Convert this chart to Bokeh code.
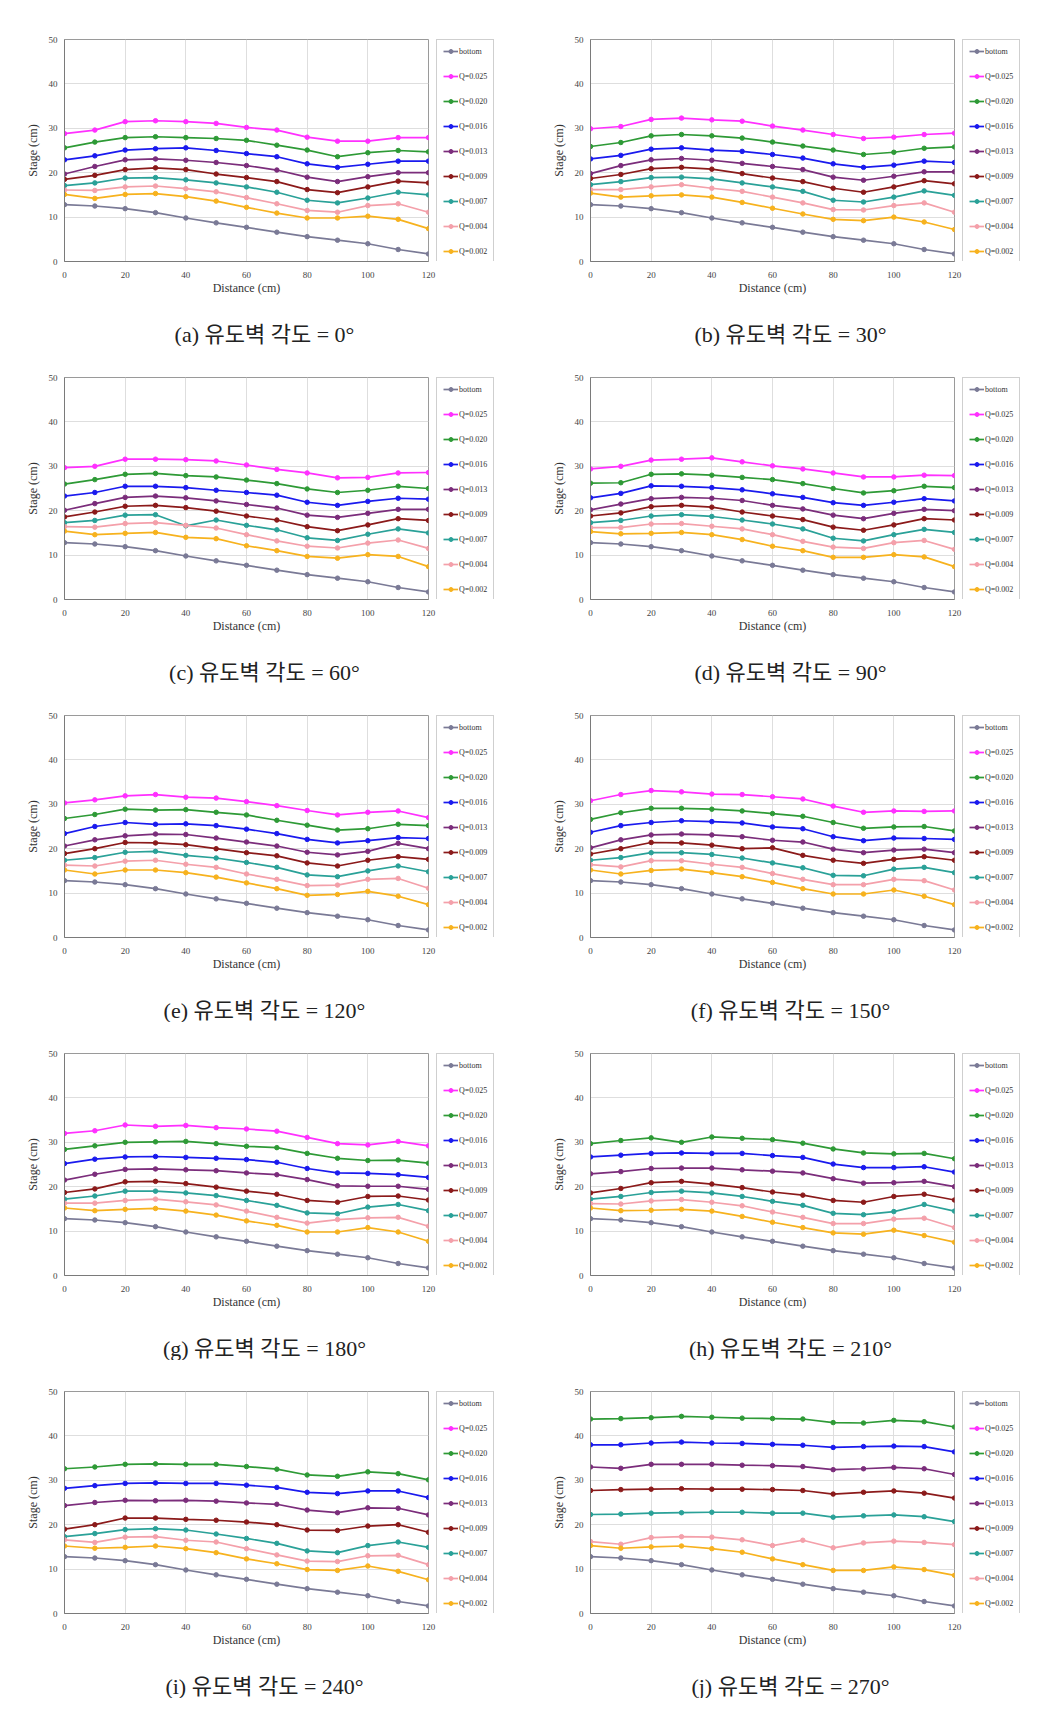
from bokeh.plotting import figure
from bokeh.models import (Range1d, FixedTicker, Legend, LegendItem, Label,
                          ColumnDataSource)
from bokeh.layouts import column, row
from bokeh.embed import file_html
from bokeh.resources import INLINE

# ---------------- data ----------------
X = [0, 10, 20, 30, 40, 50, 60, 70, 80, 90, 100, 110, 120]
X_TICKS = [0, 20, 40, 60, 80, 100, 120]
Y_TICKS = [0, 10, 20, 30, 40, 50]

SERIES = ["bottom", "Q=0.025", "Q=0.020", "Q=0.016", "Q=0.013",
          "Q=0.009", "Q=0.007", "Q=0.004", "Q=0.002"]
COLORS = ["#7a7a96", "#ff30ff", "#2e9a36", "#1a1aee", "#7b2d7b",
          "#8b1a1a", "#2aa198", "#f4a0aa", "#f7b21e"]

BOTTOM = [12.8, 12.5, 11.9, 11.0, 9.8, 8.7, 7.7, 6.6, 5.6, 4.8, 4.0, 2.7, 1.7]

# (a) 0 deg
A_025 = [28.8, 29.6, 31.5, 31.7, 31.5, 31.1, 30.2, 29.6, 28.0, 27.1, 27.1, 27.9, 27.9]
A_020 = [25.6, 26.9, 27.9, 28.1, 27.9, 27.7, 27.3, 26.2, 25.1, 23.6, 24.5, 25.0, 24.7]
A_016 = [22.9, 23.8, 25.1, 25.4, 25.6, 25.0, 24.3, 23.6, 22.0, 21.2, 21.9, 22.6, 22.6]
A_013 = [19.7, 21.4, 22.9, 23.1, 22.8, 22.3, 21.6, 20.6, 19.0, 18.0, 19.1, 20.0, 20.0]
A_009 = [18.5, 19.4, 20.7, 21.1, 20.7, 19.7, 18.9, 18.0, 16.2, 15.5, 16.8, 18.1, 17.7]
A_007 = [17.1, 17.7, 18.8, 18.9, 18.4, 17.7, 16.8, 15.6, 13.8, 13.2, 14.3, 15.6, 15.0]
A_004 = [16.1, 16.0, 16.8, 17.0, 16.4, 15.7, 14.4, 13.0, 11.5, 11.1, 12.6, 13.0, 11.1]
A_002 = [15.1, 14.2, 15.1, 15.3, 14.6, 13.6, 12.2, 10.9, 9.8, 9.8, 10.2, 9.5, 7.4]

# (b) 30 deg
B_025 = [29.9, 30.4, 32.0, 32.3, 31.9, 31.6, 30.5, 29.6, 28.6, 27.7, 28.0, 28.6, 28.9]
B_020 = [25.9, 26.8, 28.3, 28.6, 28.3, 27.8, 26.9, 26.0, 25.1, 24.1, 24.6, 25.5, 25.8]
B_016 = [23.1, 23.9, 25.3, 25.6, 25.1, 24.8, 24.1, 23.3, 22.0, 21.2, 21.7, 22.6, 22.3]
B_013 = [19.8, 21.6, 22.9, 23.2, 22.8, 22.1, 21.4, 20.7, 19.0, 18.3, 19.2, 20.2, 20.2]
B_009 = [18.7, 19.6, 20.9, 21.2, 20.8, 19.8, 18.8, 18.0, 16.5, 15.6, 16.8, 18.2, 17.5]
B_007 = [17.3, 18.0, 18.9, 19.0, 18.6, 17.7, 16.8, 15.8, 13.8, 13.4, 14.5, 15.9, 14.9]
B_004 = [16.2, 16.2, 16.8, 17.3, 16.5, 15.8, 14.5, 13.2, 11.7, 11.6, 12.6, 13.2, 11.1]
B_002 = [15.4, 14.5, 14.8, 15.0, 14.5, 13.3, 12.0, 10.7, 9.5, 9.2, 10.0, 8.9, 7.2]

# (c) 60 deg
C_025 = [29.7, 30.0, 31.6, 31.6, 31.5, 31.2, 30.3, 29.3, 28.5, 27.4, 27.5, 28.5, 28.6]
C_020 = [26.0, 27.0, 28.2, 28.4, 27.9, 27.6, 26.9, 26.1, 24.9, 24.1, 24.6, 25.5, 25.0]
C_016 = [23.3, 24.1, 25.5, 25.5, 25.2, 24.6, 24.1, 23.5, 21.9, 21.2, 22.1, 22.8, 22.6]
C_013 = [20.1, 21.6, 23.0, 23.3, 22.9, 22.2, 21.4, 20.6, 19.0, 18.5, 19.4, 20.3, 20.3]
C_009 = [18.6, 19.7, 21.0, 21.2, 20.7, 19.9, 18.8, 17.9, 16.4, 15.5, 16.8, 18.2, 17.8]
C_007 = [17.3, 17.8, 19.0, 19.1, 16.6, 17.9, 16.7, 15.7, 13.9, 13.3, 14.7, 15.9, 15.0]
C_004 = [16.4, 16.3, 17.1, 17.3, 16.7, 16.1, 14.6, 13.2, 12.0, 11.6, 12.7, 13.4, 11.5]
C_002 = [15.4, 14.6, 14.9, 15.1, 14.0, 13.7, 12.1, 11.0, 9.7, 9.3, 10.1, 9.7, 7.4]

# (d) 90 deg
D_025 = [29.4, 30.0, 31.4, 31.6, 31.9, 31.0, 30.1, 29.4, 28.5, 27.6, 27.6, 28.0, 27.9]
D_020 = [26.2, 26.3, 28.2, 28.3, 28.0, 27.5, 27.0, 26.1, 25.0, 24.0, 24.5, 25.5, 25.2]
D_016 = [22.9, 23.9, 25.6, 25.5, 25.2, 24.7, 23.8, 23.0, 21.8, 21.2, 21.9, 22.7, 22.2]
D_013 = [20.2, 21.5, 22.7, 23.0, 22.8, 22.3, 21.2, 20.4, 19.0, 18.2, 19.4, 20.3, 20.0]
D_009 = [18.8, 19.5, 20.9, 21.2, 20.8, 19.7, 18.8, 18.0, 16.3, 15.6, 16.8, 18.2, 17.9]
D_007 = [17.3, 17.8, 18.8, 19.1, 18.7, 17.9, 17.0, 15.9, 13.8, 13.2, 14.6, 15.8, 15.1]
D_004 = [16.2, 16.2, 17.0, 17.1, 16.5, 15.9, 14.6, 13.1, 11.8, 11.5, 12.8, 13.3, 11.3]
D_002 = [15.3, 14.8, 14.9, 15.1, 14.6, 13.5, 12.0, 11.0, 9.5, 9.5, 10.1, 9.6, 7.4]

# (e) 120 deg
E_025 = [30.3, 31.0, 31.9, 32.2, 31.6, 31.4, 30.6, 29.7, 28.6, 27.6, 28.2, 28.5, 27.0]
E_020 = [26.8, 27.7, 28.9, 28.7, 28.8, 28.2, 27.6, 26.4, 25.3, 24.2, 24.5, 25.5, 25.2]
E_016 = [23.4, 25.0, 25.9, 25.5, 25.6, 25.2, 24.4, 23.4, 22.1, 21.3, 21.8, 22.5, 22.3]
E_013 = [20.6, 22.0, 22.9, 23.3, 23.2, 22.4, 21.5, 20.6, 19.2, 18.6, 19.4, 21.2, 20.0]
E_009 = [18.9, 20.0, 21.4, 21.3, 20.9, 20.0, 19.1, 18.4, 16.8, 16.1, 17.4, 18.2, 17.6]
E_007 = [17.4, 18.0, 19.2, 19.4, 18.5, 17.9, 16.9, 15.8, 14.1, 13.7, 15.0, 16.1, 14.8]
E_004 = [16.3, 16.1, 17.2, 17.4, 16.5, 15.8, 14.3, 13.1, 11.7, 11.8, 13.1, 13.3, 11.1]
E_002 = [15.2, 14.3, 15.2, 15.2, 14.6, 13.6, 12.3, 11.0, 9.5, 9.7, 10.4, 9.3, 7.4]

# (f) 150 deg
F_025 = [30.8, 32.2, 33.1, 32.8, 32.3, 32.2, 31.7, 31.2, 29.6, 28.2, 28.5, 28.4, 28.5]
F_020 = [26.6, 28.1, 29.1, 29.1, 28.9, 28.5, 27.9, 27.3, 25.9, 24.6, 24.9, 25.0, 24.0]
F_016 = [23.7, 25.2, 25.9, 26.3, 26.1, 25.8, 24.9, 24.5, 22.7, 21.8, 22.4, 22.3, 22.1]
F_013 = [20.2, 22.0, 23.1, 23.3, 23.1, 22.7, 21.9, 21.5, 19.9, 19.1, 19.7, 19.9, 19.1]
F_009 = [18.8, 20.0, 21.4, 21.3, 20.8, 20.0, 20.2, 18.5, 17.4, 16.7, 17.6, 18.2, 17.4]
F_007 = [17.4, 18.0, 19.1, 19.1, 18.7, 17.9, 16.8, 15.7, 14.0, 13.9, 15.4, 15.8, 14.6]
F_004 = [16.4, 15.9, 17.3, 17.3, 16.5, 15.8, 14.4, 13.1, 11.9, 11.9, 13.1, 12.8, 10.7]
F_002 = [15.2, 14.3, 15.1, 15.4, 14.6, 13.7, 12.4, 11.0, 9.8, 9.8, 10.7, 9.3, 7.4]

# (g) 180 deg
G_025 = [32.0, 32.6, 33.9, 33.6, 33.8, 33.3, 33.0, 32.5, 31.1, 29.7, 29.4, 30.2, 29.2]
G_020 = [28.4, 29.2, 30.0, 30.1, 30.2, 29.7, 29.1, 28.8, 27.5, 26.4, 25.9, 26.0, 25.3]
G_016 = [25.2, 26.2, 26.7, 26.8, 26.6, 26.4, 26.1, 25.5, 24.1, 23.1, 23.0, 22.7, 22.1]
G_013 = [21.5, 22.8, 23.9, 24.0, 23.8, 23.6, 23.1, 22.7, 21.6, 20.2, 20.1, 20.1, 19.4]
G_009 = [18.7, 19.5, 21.1, 21.2, 20.7, 19.9, 19.0, 18.3, 16.9, 16.5, 17.8, 17.9, 17.0]
G_007 = [17.2, 17.9, 19.0, 19.0, 18.6, 18.0, 16.9, 15.8, 14.1, 13.9, 15.4, 16.0, 14.6]
G_004 = [16.3, 16.3, 16.9, 17.2, 16.6, 15.9, 14.5, 13.1, 11.8, 12.6, 13.0, 13.1, 11.1]
G_002 = [15.2, 14.6, 14.9, 15.1, 14.5, 13.6, 12.3, 11.3, 9.8, 9.8, 10.8, 9.8, 7.7]

# (h) 210 deg
H_025 = []
H_020 = [29.7, 30.4, 31.0, 30.0, 31.2, 30.9, 30.6, 29.8, 28.5, 27.6, 27.4, 27.5, 26.3]
H_016 = [26.7, 27.1, 27.5, 27.6, 27.5, 27.5, 27.0, 26.6, 25.1, 24.3, 24.3, 24.5, 23.3]
H_013 = [22.9, 23.4, 24.1, 24.2, 24.2, 23.8, 23.5, 23.1, 21.8, 20.8, 20.9, 21.2, 20.0]
H_009 = [18.6, 19.6, 20.9, 21.2, 20.6, 19.8, 18.8, 18.1, 16.9, 16.5, 17.8, 18.3, 17.0]
H_007 = [17.2, 17.8, 18.7, 19.0, 18.6, 17.8, 16.7, 15.8, 14.0, 13.7, 14.4, 16.0, 14.5]
H_004 = [16.2, 16.1, 16.8, 17.1, 16.5, 15.7, 14.3, 13.1, 11.7, 11.7, 12.7, 12.9, 10.8]
H_002 = [15.2, 14.6, 14.7, 14.9, 14.5, 13.3, 12.0, 10.8, 9.6, 9.3, 10.2, 9.0, 7.5]

# (i) 240 deg
I_025 = []
I_020 = [32.6, 33.0, 33.6, 33.7, 33.6, 33.6, 33.1, 32.5, 31.2, 30.9, 31.9, 31.5, 30.1]
I_016 = [28.2, 28.8, 29.3, 29.4, 29.3, 29.3, 28.9, 28.4, 27.3, 27.0, 27.6, 27.6, 26.1]
I_013 = [24.3, 25.0, 25.5, 25.4, 25.5, 25.3, 24.9, 24.6, 23.3, 22.7, 23.8, 23.7, 22.2]
I_009 = [19.0, 20.0, 21.5, 21.5, 21.2, 21.0, 20.6, 20.0, 18.8, 18.7, 19.7, 20.0, 18.3]
I_007 = [17.3, 18.0, 18.9, 19.1, 18.8, 17.9, 16.9, 15.8, 14.1, 13.7, 15.3, 16.1, 14.9]
I_004 = [16.6, 16.0, 17.2, 17.3, 16.5, 16.1, 14.6, 13.2, 11.8, 11.7, 13.0, 13.1, 11.0]
I_002 = [15.2, 14.7, 14.9, 15.2, 14.6, 13.7, 12.3, 11.2, 9.9, 9.7, 10.7, 9.5, 7.6]

# (j) 270 deg
J_025 = []
J_020 = [43.8, 43.9, 44.1, 44.4, 44.2, 44.0, 43.9, 43.8, 43.0, 42.9, 43.5, 43.2, 42.0]
J_016 = [38.0, 38.0, 38.4, 38.6, 38.4, 38.3, 38.1, 37.9, 37.4, 37.6, 37.7, 37.6, 36.4]
J_013 = [33.0, 32.7, 33.6, 33.6, 33.6, 33.4, 33.3, 33.1, 32.4, 32.6, 32.9, 32.6, 31.3]
J_009 = [27.7, 27.9, 28.0, 28.1, 28.0, 28.0, 27.9, 27.7, 26.9, 27.3, 27.6, 27.1, 26.0]
J_007 = [22.3, 22.4, 22.6, 22.7, 22.8, 22.8, 22.6, 22.6, 21.7, 22.0, 22.2, 21.8, 20.7]
J_004 = [16.2, 15.6, 17.1, 17.3, 17.2, 16.6, 15.3, 16.5, 14.8, 15.9, 16.3, 16.0, 15.5]
J_002 = [15.3, 14.7, 15.0, 15.2, 14.6, 13.8, 12.3, 11.0, 9.7, 9.7, 10.5, 9.9, 8.6]

CAPTIONS = ["(a) 유도벽 각도 = 0°", "(b) 유도벽 각도 = 30°",
            "(c) 유도벽 각도 = 60°", "(d) 유도벽 각도 = 90°",
            "(e) 유도벽 각도 = 120°", "(f) 유도벽 각도 = 150°",
            "(g) 유도벽 각도 = 180°", "(h) 유도벽 각도 = 210°",
            "(i) 유도벽 각도 = 240°", "(j) 유도벽 각도 = 270°"]

PANEL_DATA = [
    [BOTTOM, A_025, A_020, A_016, A_013, A_009, A_007, A_004, A_002],
    [BOTTOM, B_025, B_020, B_016, B_013, B_009, B_007, B_004, B_002],
    [BOTTOM, C_025, C_020, C_016, C_013, C_009, C_007, C_004, C_002],
    [BOTTOM, D_025, D_020, D_016, D_013, D_009, D_007, D_004, D_002],
    [BOTTOM, E_025, E_020, E_016, E_013, E_009, E_007, E_004, E_002],
    [BOTTOM, F_025, F_020, F_016, F_013, F_009, F_007, F_004, F_002],
    [BOTTOM, G_025, G_020, G_016, G_013, G_009, G_007, G_004, G_002],
    [BOTTOM, H_025, H_020, H_016, H_013, H_009, H_007, H_004, H_002],
    [BOTTOM, I_025, I_020, I_016, I_013, I_009, I_007, I_004, I_002],
    [BOTTOM, J_025, J_020, J_016, J_013, J_009, J_007, J_004, J_002],
]

# ---------------- styling ----------------
SERIF = "Liberation Serif"
CAP_FONT = "Liberation Serif, Noto Sans CJK KR"
FRAME_W = 364
FRAME_H = 222
BOTTOM_BORDER = 38
CAP_H = 47
CHART_RIGHT = 8
NAN = float("nan")


def make_chart(data, left_border, top_border):
    width = left_border + FRAME_W + CHART_RIGHT
    p = figure(width=width, height=top_border + FRAME_H + BOTTOM_BORDER,
               x_range=Range1d(0, 120), y_range=Range1d(0, 50),
               output_backend="svg", toolbar_location=None,
               min_border_left=left_border, min_border_right=CHART_RIGHT,
               min_border_top=top_border, min_border_bottom=BOTTOM_BORDER)
    p.background_fill_color = "white"
    p.border_fill_color = "white"
    p.outline_line_color = "#9a9a9a"
    p.outline_line_width = 1

    p.xaxis.ticker = FixedTicker(ticks=X_TICKS)
    p.yaxis.ticker = FixedTicker(ticks=Y_TICKS)
    for ax in (p.xaxis, p.yaxis):
        ax.axis_line_color = "#7a7a7a"
        ax.major_tick_line_color = None
        ax.minor_tick_line_color = None
        ax.major_label_text_font = SERIF
        ax.major_label_text_font_size = "9px"
        ax.major_label_text_color = "#444444"
        ax.axis_label_text_font = SERIF
        ax.axis_label_text_font_size = "12px"
        ax.axis_label_text_font_style = "normal"
        ax.axis_label_text_color = "#333333"
    p.xaxis.axis_label = "Distance (cm)"
    p.yaxis.axis_label = "Stage (cm)"
    p.xaxis.major_label_standoff = 4
    p.xaxis.axis_label_standoff = 0
    p.yaxis.major_label_standoff = 1
    p.yaxis.axis_label_standoff = 6

    p.xgrid.grid_line_color = "#dedede"
    p.ygrid.grid_line_color = "#dedede"

    for color, ys in zip(COLORS, data):
        xs = X[:len(ys)]
        src = ColumnDataSource(dict(x=xs, y=ys))
        p.line("x", "y", source=src, line_color=color, line_width=1.7)
        p.scatter("x", "y", source=src, marker="circle", size=4.5,
                  fill_color=color, line_color=color)
    return p


def make_legend(width, top_border):
    g = figure(width=width, height=top_border + FRAME_H + BOTTOM_BORDER,
               x_range=Range1d(0, 1), y_range=Range1d(0, 1),
               x_axis_type=None, y_axis_type=None,
               output_backend="svg", toolbar_location=None,
               min_border_left=0, min_border_right=0,
               min_border_top=top_border,
               min_border_bottom=BOTTOM_BORDER - 2)
    g.outline_line_color = None
    g.background_fill_color = "white"
    g.border_fill_color = "white"
    items = []
    for name, color in zip(SERIES, COLORS):
        # placeholder (non-drawn) source so the legend swatch is rendered
        src = ColumnDataSource(dict(x=[NAN], y=[NAN]))
        lr = g.line("x", "y", source=src, line_color=color, line_width=1.7)
        sr = g.scatter("x", "y", source=src, marker="circle", size=4.5,
                       fill_color=color, line_color=color)
        items.append(LegendItem(label=name, renderers=[lr, sr]))
    legend = Legend(items=items, location="top_left",
                    orientation="vertical",
                    label_text_font=SERIF, label_text_font_size="8px",
                    label_text_color="#333333",
                    label_height=10, glyph_height=10, glyph_width=15,
                    label_standoff=1, spacing=15, padding=6, margin=0,
                    border_line_color="#a0a0a0", border_line_width=1,
                    background_fill_color="white", background_fill_alpha=1)
    g.add_layout(legend, "center")
    return g


def make_caption(caption, left_border, width):
    c = figure(width=width, height=CAP_H, x_range=Range1d(0, 1),
               y_range=Range1d(0, 1), x_axis_type=None, y_axis_type=None,
               output_backend="svg", toolbar_location=None,
               min_border_left=0, min_border_right=0,
               min_border_top=0, min_border_bottom=0)
    c.outline_line_color = None
    c.background_fill_color = "white"
    c.border_fill_color = "white"
    c.add_layout(Label(x=left_border + FRAME_W / 2 + 18, y=12,
                       x_units="screen", y_units="screen",
                       text=caption, text_align="center",
                       text_baseline="middle", text_font=CAP_FONT,
                       text_font_size="22px", text_color="#222222"))
    return c


rows = []
for k in range(0, 10, 2):
    top = 39 if k == 0 else 31
    chart_row, cap_row = [], []
    for i, (left, total) in zip((k, k + 1), ((64, 534), (56, 514))):
        chart_w = left + FRAME_W + CHART_RIGHT
        chart_row.append(make_chart(PANEL_DATA[i], left, top))
        chart_row.append(make_legend(total - chart_w, top))
        cap_row.append(make_caption(CAPTIONS[i], left, total))
    rows.append(row(*chart_row))
    rows.append(row(*cap_row))
layout = column(*rows)

open("out.html", "w").write(file_html(layout, INLINE))
